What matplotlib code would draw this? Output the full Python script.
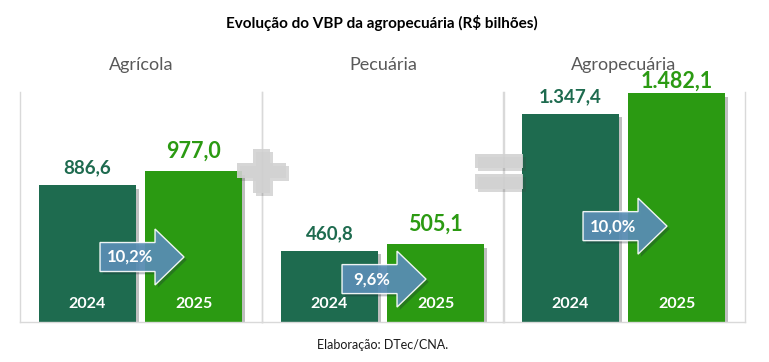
import matplotlib
matplotlib.use("Agg")
import matplotlib.pyplot as plt
import matplotlib.patheffects as pe
from matplotlib.patches import Polygon
from matplotlib import transforms as mtransforms

# ---------------- data ----------------
panels = ["Agrícola", "Pecuária", "Agropecuária"]
years = ["2024", "2025"]
values_2024 = [886.6, 460.8, 1347.4]
values_2025 = [977.0, 505.1, 1482.1]
labels_2024 = ["886,6", "460,8", "1.347,4"]
labels_2025 = ["977,0", "505,1", "1.482,1"]
growth = ["10,2%", "9,6%", "10,0%"]
title = "Evolução do VBP da agropecuária (R$ bilhões)"
source = "Elaboração: DTec/CNA."

# ---------------- style ----------------
W, H = 769, 362
DPI = 100
FONT = ["Lato", "DejaVu Sans"]
plt.rcParams["font.family"] = FONT
C24 = "#1e6b4f"
C25 = "#2b9a12"
GRID = "#d9d9d9"
ARROW = "#5a8fb6"
SIGN = "#d2d2d2"

fig = plt.figure(figsize=(W / DPI, H / DPI), dpi=DPI)
fig.patch.set_facecolor("white")

# pixel transform (image coords, y down) for decorations
px = mtransforms.Affine2D().scale(1, -1).translate(0, H).scale(1 / W, 1 / H) + fig.transFigure

panel_left = [20, 262, 503]
panel_w = 242
ax_top, ax_bot = 92, 322
ylim_top = 1490
arrow_y = [421, 278, 621]
label25_off = [14.2, 14.2, 8.8]   # points above bar top

shadow = [pe.SimplePatchShadow(offset=(2.5, -2.5), shadow_rgbFace="#000000", alpha=0.25), pe.Normal()]

for i, name in enumerate(panels):
    ax = fig.add_axes([panel_left[i] / W, (H - ax_bot) / H, panel_w / W, (ax_bot - ax_top) / H])
    ax.set_xlim(-0.637, 1.646)
    ax.set_ylim(0, ylim_top)
    ax.set_xticks([])
    ax.set_yticks([])
    ax.spines["top"].set_visible(False)
    for s in ["left", "right", "bottom"]:
        ax.spines[s].set_color(GRID)
        ax.spines[s].set_linewidth(1.0)
    ax.patch.set_alpha(0)

    bars = ax.bar([0, 1], [values_2024[i], values_2025[i]], width=0.915,
                  color=[C24, C25], zorder=2)
    for b in bars:
        b.set_path_effects(shadow)

    ax.annotate(labels_2024[i], (0, values_2024[i]), xytext=(0, 12.3), textcoords="offset points",
                ha="center", va="center", color=C24, fontsize=13.5, fontweight="bold")
    ax.annotate(labels_2025[i], (1, values_2025[i]), xytext=(0, label25_off[i]), textcoords="offset points",
                ha="center", va="center", color=C25, fontsize=15.5, fontweight="bold")
    for j, yr in enumerate(years):
        ax.annotate(yr, (j, 0), xytext=(0, 12.8), textcoords="offset points",
                    ha="center", va="center", color="white", fontsize=11.5, fontweight="bold", zorder=5)

    # growth arrow, anchored on the 2024 bar center, offsets in pixels
    trans = (mtransforms.Affine2D().scale(1 / DPI) + fig.dpi_scale_trans +
             mtransforms.ScaledTranslation(0, arrow_y[i], ax.transData))
    x0, xb, xt = 80 - 67.5, 135 - 67.5, 164 - 67.5
    hb, hh = 14.5, 28
    verts = [(x0, -hb), (xb, -hb), (xb, -hh), (xt, 0), (xb, hh), (xb, hb), (x0, hb)]
    arr = Polygon(verts, closed=True, transform=trans, facecolor=ARROW, alpha=0.92,
                  edgecolor="white", linewidth=1.0, zorder=4, clip_on=False)
    arr.set_path_effects([pe.SimplePatchShadow(offset=(2, -2), alpha=0.3), pe.Normal()])
    ax.add_patch(arr)
    ax.text(110 - 67.5, 0, growth[i], transform=trans, ha="center", va="center",
            color="white", fontsize=12, fontweight="bold", zorder=6)

    fig.text((panel_left[i] + panel_w / 2) / W, 1 - 65 / H, name, ha="center", va="center",
             color="#595959", fontsize=13)

# plus sign
plus = Polygon([(253, 149), (270, 149), (270, 163), (286, 163), (286, 178), (270, 178),
                (270, 193), (253, 193), (253, 178), (237, 178), (237, 163), (253, 163)],
               closed=True, transform=px, facecolor=SIGN, alpha=0.9, edgecolor="none", zorder=7)
plus.set_path_effects([pe.SimplePatchShadow(offset=(2, -2), alpha=0.2), pe.Normal()])
fig.add_artist(plus)

# equals sign
for (y1, y2) in [(154, 168), (174, 189)]:
    eq = Polygon([(475, y1), (523, y1), (523, y2), (475, y2)], closed=True, transform=px,
                 facecolor=SIGN, alpha=0.9, edgecolor="none", zorder=7)
    eq.set_path_effects([pe.SimplePatchShadow(offset=(2, -2), alpha=0.2), pe.Normal()])
    fig.add_artist(eq)

fig.text(382 / W, 1 - 23 / H, title, ha="center", va="center", color="black",
         fontsize=11, fontweight="bold")
fig.text(383 / W, 1 - 345 / H, source, ha="center", va="center", color="#1a1a1a", fontsize=9)

fig.savefig("out.png", dpi=DPI)
